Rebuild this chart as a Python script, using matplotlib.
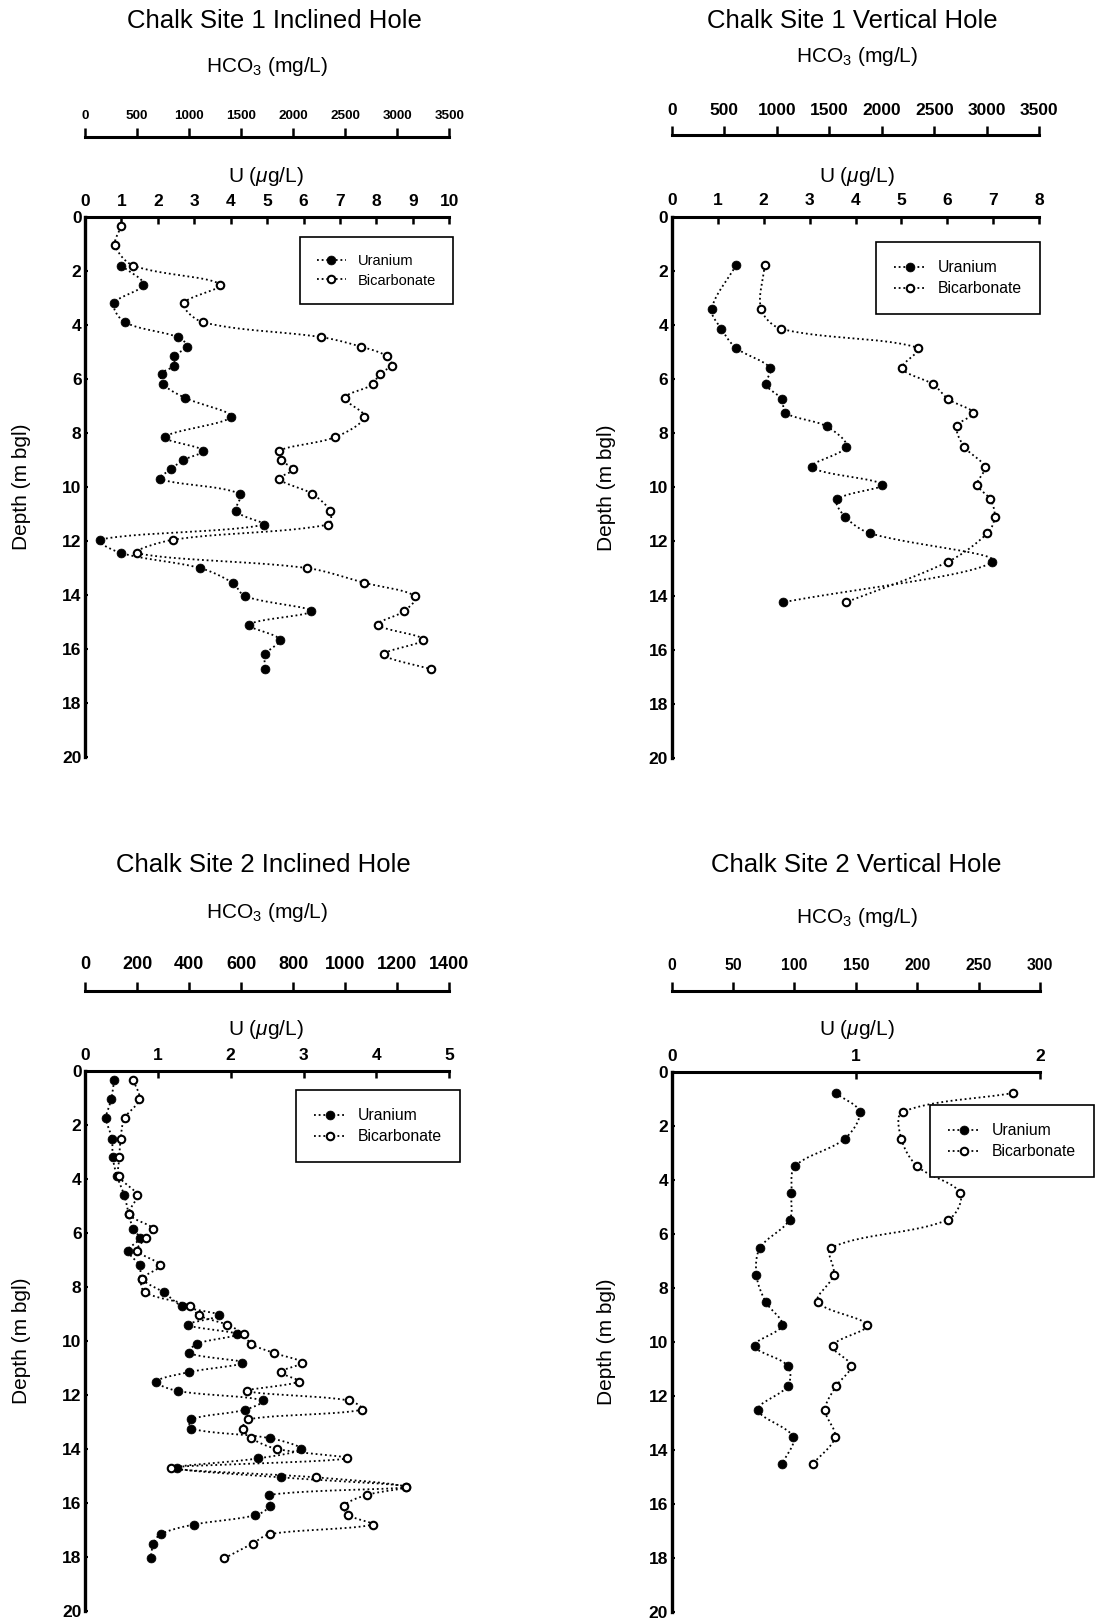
import numpy as np
import matplotlib
matplotlib.use('Agg')
import matplotlib.pyplot as plt
from matplotlib.lines import Line2D

plt.rcParams['font.family'] = ['Liberation Sans', 'DejaVu Sans']
plt.rcParams['mathtext.fontset'] = 'custom'
plt.rcParams['mathtext.rm'] = 'Liberation Sans'
plt.rcParams['mathtext.it'] = 'Liberation Sans:italic'

# ---- data ----
titles = ['Chalk Site 1 Inclined Hole', 'Chalk Site 1 Vertical Hole',
          'Chalk Site 2 Inclined Hole', 'Chalk Site 2 Vertical Hole']

# Site 1 inclined
s1i_u_depth = [1.8, 2.5, 3.2, 3.9, 4.45, 4.8, 5.15, 5.5, 5.8, 6.2, 6.7, 7.4, 8.15, 8.65, 9.0,
               9.35, 9.7, 10.25, 10.9, 11.4, 11.95, 12.45, 13.0, 13.55, 14.05, 14.6, 15.1,
               15.65, 16.2, 16.75]
s1i_u = [1.0, 1.6, 0.8, 1.1, 2.55, 2.8, 2.45, 2.45, 2.1, 2.15, 2.75, 4.0, 2.2, 3.25, 2.7,
         2.35, 2.05, 4.25, 4.15, 4.9, 0.4, 1.0, 3.15, 4.05, 4.4, 6.2, 4.5, 5.35, 4.95, 4.95]
s1i_h_depth = [0.35, 1.05] + s1i_u_depth
s1i_hco3 = [345, 290, 465, 1300, 950, 1135, 2270, 2650, 2900, 2945, 2830, 2765, 2500, 2685,
            2405, 1865, 1880, 2000, 1865, 2180, 2355, 2330, 850, 500, 2130, 2685, 3175, 3065,
            2815, 3250, 2875, 3325]

# Site 1 vertical
s1v_depth = [1.8, 3.4, 4.15, 4.85, 5.6, 6.2, 6.75, 7.25, 7.75, 8.5, 9.25, 9.9, 10.45, 11.1,
             11.7, 12.75, 14.25]
s1v_u = [1.4, 0.87, 1.08, 1.4, 2.15, 2.05, 2.4, 2.47, 3.37, 3.8, 3.05, 4.58, 3.6, 3.78, 4.32,
         6.98, 2.42]
s1v_hco3 = [885, 850, 1045, 2345, 2195, 2490, 2635, 2870, 2715, 2785, 2980, 2910, 3035, 3075,
            3005, 2630, 1655]

# Site 2 inclined
s2i_depth = [0.35, 1.05, 1.75, 2.5, 3.2, 3.9, 4.6, 5.3, 5.85, 6.2, 6.65, 7.2, 7.7, 8.2, 8.7,
             9.05, 9.4, 9.75, 10.1, 10.45, 10.8, 11.15, 11.5, 11.85, 12.2, 12.55, 12.9, 13.25,
             13.6, 14.0, 14.35, 14.7, 15.05, 15.4, 15.7, 16.1, 16.45, 16.8, 17.15, 17.5, 18.05]
s2i_u = [0.40, 0.36, 0.29, 0.37, 0.38, 0.44, 0.54, 0.60, 0.66, 0.75, 0.59, 0.75, 0.78, 1.08,
         1.33, 1.84, 1.41, 2.08, 1.54, 1.43, 2.16, 1.43, 0.98, 1.27, 2.44, 2.19, 1.46, 1.46,
         2.54, 2.96, 2.37, 1.26, 2.69, 4.40, 2.53, 2.54, 2.34, 1.49, 1.04, 0.94, 0.90]
s2i_hco3 = [186, 209, 152, 137, 132, 131, 199, 170, 263, 233, 201, 288, 218, 231, 405, 437,
            547, 611, 637, 728, 833, 753, 822, 624, 1014, 1064, 625, 608, 638, 739, 1007, 332,
            888, 1232, 1083, 995, 1012, 1105, 711, 644, 535]

# Site 2 vertical
s2v_depth = [0.78, 1.48, 2.47, 3.49, 4.48, 5.47, 6.51, 7.51, 8.51, 9.38, 10.14, 10.88, 11.63,
             12.51, 13.52, 14.51]
s2v_u = [0.89, 1.02, 0.94, 0.67, 0.65, 0.64, 0.48, 0.46, 0.51, 0.60, 0.45, 0.63, 0.63, 0.47,
         0.66, 0.60]
s2v_hco3 = [278, 188, 187, 200, 235, 225, 130, 132, 119, 159, 131, 146, 134, 125, 133, 115]

u_max = [10, 8, 5, 2]
hco3_max = [3500, 3500, 1400, 300]
hco3_step = [500, 500, 200, 50]
depth_ticks = list(range(0, 21, 2))

W, H = 1097, 1621

# pixel layout of each panel: axes box, text positions, legend corner
panels = [
    dict(title=titles[0], ud=s1i_u_depth, u=s1i_u, hd=s1i_h_depth, h=s1i_hco3,
         umax=u_max[0], hmax=hco3_max[0], hstep=hco3_step[0],
         box=(85, 449.3, 217, 757), tx=274, ty=28, hx=267, hy=72, ux=266, uy=182,
         dx=22, off=57.5, hsize=9.7, hpad=4.5, leg=(300, 237), lsize=10.5),
    dict(title=titles[1], ud=s1v_depth, u=s1v_u, hd=s1v_depth, h=s1v_hco3,
         umax=u_max[1], hmax=hco3_max[1], hstep=hco3_step[1],
         box=(671.7, 1039.3, 216.6, 758), tx=852, ty=28, hx=857, hy=62, ux=857, uy=182,
         dx=607, off=58.5, hsize=12.5, hpad=6, leg=(876, 242), lsize=11.3),
    dict(title=titles[2], ud=s2i_depth, u=s2i_u, hd=s2i_depth, h=s2i_hco3,
         umax=u_max[2], hmax=hco3_max[2], hstep=hco3_step[2],
         box=(85, 449.3, 1071, 1611), tx=263, ty=872, hx=267, hy=918, ux=266, uy=1035,
         dx=22, off=57.8, hsize=13, hpad=6, leg=(296, 1090), lsize=11.3),
    dict(title=titles[3], ud=s2v_depth, u=s2v_u, hd=s2v_depth, h=s2v_hco3,
         umax=u_max[3], hmax=hco3_max[3], hstep=hco3_step[3],
         box=(671.7, 1040, 1072, 1612), tx=856, ty=872, hx=857, hy=923, ux=857, uy=1035,
         dx=607, off=58.5, hsize=11.4, hpad=6, leg=(930, 1105), lsize=11.3),
]

DOT = (0, (1.0, 1.6))
LW = 1.3
U_MARK = dict(marker='o', ms=6.4, mfc='k', mec='k', mew=0.5)
H_MARK = dict(marker='o', ms=5.4, mfc='white', mec='k', mew=1.5)


def smooth(x, d, sx, sy, n=25):
    # Catmull-Rom style curve through the points, worked out in screen pixels
    P = np.column_stack([np.asarray(x, float) * sx, np.asarray(d, float) * sy])
    h = np.hypot(*np.diff(P, axis=0).T)
    m = len(P)
    out = []
    for i in range(m - 1):
        if i > 0:
            t0 = (P[i + 1] - P[i - 1]) * h[i] / (h[i - 1] + h[i])
        else:
            t0 = P[1] - P[0]
        if i < m - 2:
            t1 = (P[i + 2] - P[i]) * h[i] / (h[i] + h[i + 1])
        else:
            t1 = P[-1] - P[-2]
        s = np.linspace(0, 1, n)[:, None]
        h00 = 2 * s ** 3 - 3 * s ** 2 + 1
        h10 = s ** 3 - 2 * s ** 2 + s
        h01 = -2 * s ** 3 + 3 * s ** 2
        h11 = s ** 3 - s ** 2
        out.append(h00 * P[i] + h10 * t0 + h01 * P[i + 1] + h11 * t1)
    C = np.vstack(out)
    return C[:, 0] / sx, C[:, 1] / sy


def draw_panel(fig, p):
    l, r, t, b = p['box']
    ax = fig.add_axes([l / W, 1 - b / H, (r - l) / W, (b - t) / H])
    ax.set_xlim(0, p['umax'])
    ax.set_ylim(20, 0)

    # bicarbonate axis floats above the uranium axis
    ax2 = ax.twiny()
    ax2.set_xlim(0, p['hmax'])
    for s in ['right', 'bottom', 'left']:
        ax2.spines[s].set_visible(False)
    ax2.spines['top'].set_position(('outward', p['off']))
    ax2.spines['top'].set_linewidth(2.2)
    hticks = list(range(0, p['hmax'] + 1, p['hstep']))
    ax2.set_xticks(hticks)
    ax2.set_xticklabels([str(v) for v in hticks], fontweight='bold')
    ax2.tick_params(axis='x', direction='out', length=6.5, width=1.8, pad=p['hpad'],
                    labelsize=p['hsize'])

    for s in ['right', 'bottom']:
        ax.spines[s].set_visible(False)
    ax.spines['top'].set_linewidth(2.2)
    ax.spines['left'].set_linewidth(2.4)
    ax.xaxis.tick_top()
    ax.set_xticks(range(0, p['umax'] + 1))
    ax.set_xticklabels([str(v) for v in range(0, p['umax'] + 1)], fontweight='bold')
    ax.set_yticks(depth_ticks)
    ax.set_yticklabels([str(v) for v in depth_ticks], fontweight='bold')
    ax.tick_params(axis='x', which='both', top=True, bottom=False, labeltop=True,
                   labelbottom=False, direction='in', length=5, width=1.8, pad=6,
                   labelsize=12.5)
    ax.tick_params(axis='y', direction='in', length=2.5, width=1.5, pad=2.5, labelsize=12.5)

    wpx, hpx = r - l, b - t
    sy = hpx / 20.0
    xs, ys = smooth(p['u'], p['ud'], wpx / p['umax'], sy)
    ax.plot(xs, ys, color='k', lw=LW, ls=DOT)
    ax.plot(p['u'], p['ud'], ls='none', **U_MARK)

    xs, ys = smooth(p['h'], p['hd'], wpx / p['hmax'], sy)
    ax2.plot(xs, ys, color='k', lw=LW, ls=DOT)
    ax2.plot(p['h'], p['hd'], ls='none', **H_MARK)

    handles = [Line2D([0], [0], color='k', lw=LW, ls=DOT, **U_MARK),
               Line2D([0], [0], color='k', lw=LW, ls=DOT, **H_MARK)]
    lx, ly = p['leg']
    leg = ax2.legend(handles, ['Uranium', 'Bicarbonate'], loc='upper left',
                     bbox_to_anchor=(lx / W, 1 - ly / H), bbox_transform=fig.transFigure,
                     fontsize=p['lsize'], frameon=True, fancybox=False, edgecolor='k',
                     framealpha=1, borderpad=1.15, handlelength=2.0, handletextpad=0.8,
                     labelspacing=0.4, borderaxespad=0, numpoints=1)
    leg.get_frame().set_linewidth(1.2)

    fig.text(p['tx'] / W, 1 - p['ty'] / H, p['title'], ha='center', va='baseline',
             fontsize=18.5)
    fig.text(p['hx'] / W, 1 - p['hy'] / H, 'HCO$_3$ (mg/L)', ha='center', va='baseline',
             fontsize=15)
    fig.text(p['ux'] / W, 1 - p['uy'] / H, r'U ($\mathit{\mu}$g/L)', ha='center',
             va='baseline', fontsize=15)
    fig.text(p['dx'] / W, 1 - ((t + b) / 2) / H, 'Depth (m bgl)', ha='center', va='center',
             rotation=90, fontsize=15)


fig = plt.figure(figsize=(W / 100, H / 100), dpi=100)
for p in panels:
    draw_panel(fig, p)

fig.savefig('out.png', dpi=100)
